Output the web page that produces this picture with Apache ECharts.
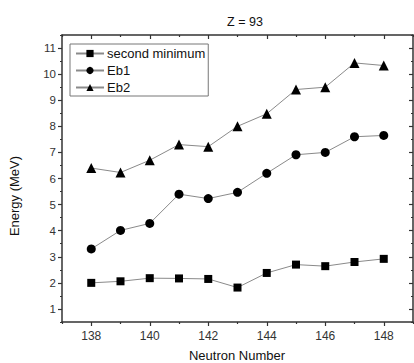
<!DOCTYPE html>
<html>
<head>
<meta charset="utf-8">
<script src="https://cdn.jsdelivr.net/npm/echarts@6/dist/echarts.min.js"></script>
<style>
  html, body { margin: 0; padding: 0; background: #fff; }
  #chart { width: 414px; height: 363px; }
</style>
</head>
<body>
<div id="chart"></div>
<script>
const neutron = [138, 139, 140, 141, 142, 143, 144, 145, 146, 147, 148]
const secondMinimum = [2.0, 2.06, 2.18, 2.17, 2.15, 1.82, 2.38, 2.7, 2.64, 2.8, 2.92]
const eb1 = [3.3, 4.01, 4.28, 5.4, 5.23, 5.47, 6.2, 6.91, 7.0, 7.6, 7.65]
const eb2 = [6.4, 6.23, 6.7, 7.3, 7.22, 8.0, 8.48, 9.41, 9.5, 10.43, 10.33]

const xMajor = [138, 140, 142, 144, 146, 148]
const xMinor = [137, 139, 141, 143, 145, 147, 149]
const yMajor = [1, 2, 3, 4, 5, 6, 7, 8, 9, 10, 11]
const yMinor = [0.5, 1.5, 2.5, 3.5, 4.5, 5.5, 6.5, 7.5, 8.5, 9.5, 10.5, 11.5]

const font = 'Liberation Sans, Arial, sans-serif'
const axisColor = '#333'

const chart = echarts.init(document.getElementById('chart'), null, { renderer: 'svg' })

function xAxisDef (pos, values, len, inside, showLine, labels) {
  return {
    type: 'value',
    position: pos,
    min: 137,
    max: 149,
    axisLine: { show: showLine, onZero: false, lineStyle: { color: axisColor, width: 1.5 } },
    axisTick: { show: true, inside, length: len, customValues: values, lineStyle: { color: axisColor, width: 1.2 } },
    axisLabel: labels
      ? { show: true, customValues: xMajor, color: axisColor, fontFamily: font, fontSize: 12, margin: 8 }
      : { show: false },
    splitLine: { show: false }
  }
}

function yAxisDef (pos, values, len, inside, showLine, labels) {
  return {
    type: 'value',
    position: pos,
    min: 0.5,
    max: 11.5,
    axisLine: { show: showLine, onZero: false, lineStyle: { color: axisColor, width: 1.5 } },
    axisTick: { show: true, inside, length: len, customValues: values, lineStyle: { color: axisColor, width: 1.2 } },
    axisLabel: labels
      ? { show: true, customValues: yMajor, color: axisColor, fontFamily: font, fontSize: 11.5, margin: 6 }
      : { show: false },
    splitLine: { show: false }
  }
}

const lineStyle = { color: '#8a8a8a', width: 1 }
const itemStyle = { color: '#000' }

function toPairs (ys) {
  return neutron.map((n, i) => [n, ys[i]])
}

chart.setOption({
  animation: false,
  backgroundColor: '#fff',
  title: {
    text: 'Z = 93',
    left: 240,
    textAlign: 'center',
    top: 10,
    textStyle: { fontFamily: font, fontSize: 12.5, fontWeight: 'normal', color: '#111' }
  },
  grid: { left: 62, right: 1, top: 35, bottom: 41 },
  legend: {
    orient: 'vertical',
    left: 70,
    top: 44,
    padding: [3, 3, 2, 5],
    itemGap: 4,
    itemWidth: 28,
    itemHeight: 9,
    backgroundColor: '#fff',
    borderColor: '#777',
    borderWidth: 1,
    borderRadius: 0,
    textStyle: { fontFamily: font, fontSize: 13, lineHeight: 12, color: '#111', padding: [0, 0, 0, -2] },
    data: ['second minimum', 'Eb1', 'Eb2']
  },
  xAxis: [
    xAxisDef('bottom', xMajor, 4, false, true, true),
    xAxisDef('bottom', xMinor, 2, false, false, false),
    xAxisDef('top', xMajor, 4, true, true, false),
    xAxisDef('top', xMinor, 2, true, false, false)
  ],
  yAxis: [
    yAxisDef('left', yMajor, 4, false, true, true),
    yAxisDef('left', yMinor, 2, false, false, false),
    yAxisDef('right', yMajor, 4, true, true, false),
    yAxisDef('right', yMinor, 2, true, false, false)
  ],
  series: [
    {
      name: 'second minimum',
      type: 'line',
      data: toPairs(secondMinimum),
      symbol: 'rect',
      symbolSize: 8,
      lineStyle,
      itemStyle
    },
    {
      name: 'Eb1',
      type: 'line',
      data: toPairs(eb1),
      symbol: 'circle',
      symbolSize: 9,
      lineStyle,
      itemStyle
    },
    {
      name: 'Eb2',
      type: 'line',
      data: toPairs(eb2),
      symbol: 'triangle',
      symbolSize: 10,
      lineStyle,
      itemStyle
    }
  ],
  graphic: [
    {
      type: 'text',
      x: 14,
      y: 196,
      rotation: Math.PI / 2,
      style: {
        text: 'Energy (MeV)',
        fontFamily: font,
        fontSize: 13,
        fill: '#111',
        align: 'center',
        verticalAlign: 'middle'
      }
    },
    {
      type: 'text',
      x: 237,
      y: 355,
      style: {
        text: 'Neutron Number',
        fontFamily: font,
        fontSize: 13,
        fill: '#111',
        align: 'center',
        verticalAlign: 'middle'
      }
    }
  ]
})
</script>
</body>
</html>
